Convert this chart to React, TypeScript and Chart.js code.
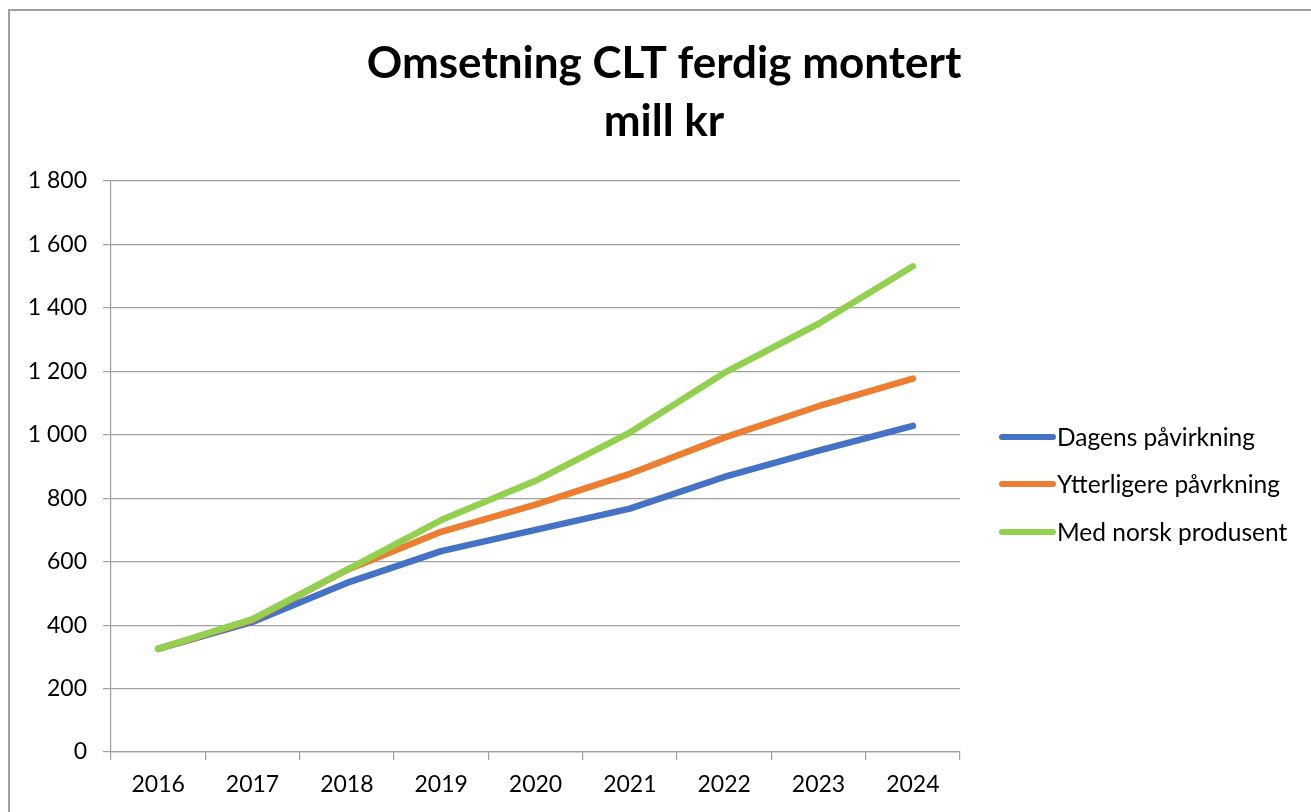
import React, { useEffect, useRef } from 'react';
import { Chart, registerables } from 'chart.js';

Chart.register(...registerables);

const years = ['2016', '2017', '2018', '2019', '2020', '2021', '2022', '2023', '2024'];
const dagens = [325, 410, 533, 633, 700, 767, 867, 950, 1028];
const ytterligere = [325, 416, 574, 694, 780, 877, 991, 1090, 1177];
const medNorsk = [325, 419, 574, 731, 855, 1007, 1195, 1350, 1531];
const seriesNames = ['Dagens påvirkning', 'Ytterligere påvrkning', 'Med norsk produsent'];
const seriesColors = ['#4472C4', '#ED7D31', '#92D050'];
const titleLines = ['Omsetning CLT ferdig montert', 'mill kr'];
const yMin = 0;
const yMax = 1800;
const yStep = 200;

const FONT = 'Lato, "Open Sans", sans-serif';
const GRID = '#a0a0a0';

const formatThousands = (v: number) => {
  const s = String(Math.round(v));
  return s.replace(/\B(?=(\d{3})+(?!\d))/g, ' ');
};

const decorPlugin = {
  id: 'decor',
  beforeDraw(chart: any) {
    const ctx = chart.ctx;
    ctx.save();
    ctx.fillStyle = '#ffffff';
    ctx.fillRect(0, 0, chart.width, chart.height);
    ctx.strokeStyle = '#a0a0a0';
    ctx.lineWidth = 2;
    ctx.strokeRect(9, 10, chart.width + 50, chart.height + 50);
    ctx.restore();
  },
  afterDraw(chart: any) {
    const ctx = chart.ctx;
    ctx.save();
    // title
    ctx.fillStyle = '#000000';
    ctx.textAlign = 'center';
    ctx.textBaseline = 'middle';
    ctx.font = `bold 44px ${FONT}`;
    ctx.fillText(titleLines[0], 664, 64);
    ctx.fillText(titleLines[1], 664, 122);
    // legend
    const ys = [437, 484, 532];
    chart.data.datasets.forEach((ds: any, i: number) => {
      const y = ys[i];
      ctx.strokeStyle = ds.borderColor;
      ctx.lineWidth = 6;
      ctx.lineCap = 'round';
      ctx.beginPath();
      ctx.moveTo(1002, y);
      ctx.lineTo(1053, y);
      ctx.stroke();
      ctx.fillStyle = '#000000';
      ctx.textAlign = 'left';
      ctx.textBaseline = 'middle';
      ctx.font = `24.5px ${FONT}`;
      ctx.fillText(ds.label, 1057, y + 1);
    });
    ctx.restore();
  },
};

export default function App() {
  const ref = useRef<HTMLCanvasElement | null>(null);
  useEffect(() => {
    if (!ref.current) return;
    const series = [dagens, ytterligere, medNorsk];
    const chart = new Chart(ref.current, {
      type: 'line',
      data: {
        labels: years,
        datasets: series.map((d, i) => ({
          label: seriesNames[i],
          data: d,
          borderColor: seriesColors[i],
          backgroundColor: seriesColors[i],
          borderWidth: 6.5,
          borderCapStyle: 'round',
          borderJoinStyle: 'round',
          pointRadius: 0,
          pointHoverRadius: 0,
          tension: 0,
          fill: false,
          order: 3 - i,
        })),
      },
      options: {
        animation: false,
        responsive: false,
        devicePixelRatio: 1,
        layout: { padding: { left: 0, top: 181, right: 351, bottom: 0 } },
        plugins: {
          legend: { display: false },
          title: { display: false },
          tooltip: { enabled: false },
        },
        scales: {
          x: {
            type: 'category',
            offset: true,
            afterFit: (s: any) => { s.height = 60; },
            grid: {
              offset: true,
              drawOnChartArea: false,
              drawTicks: true,
              tickLength: 8,
              color: GRID,
              lineWidth: 1.2,
            },
            border: { display: true, color: GRID, width: 1.2 },
            ticks: {
              color: '#000000',
              font: { family: FONT, size: 23 },
              padding: 11,
              maxRotation: 0,
              autoSkip: false,
            },
          },
          y: {
            min: yMin,
            max: yMax,
            afterFit: (s: any) => { s.width = 111; },
            grid: {
              color: GRID,
              lineWidth: 1.2,
              drawTicks: true,
              tickLength: 8,
            },
            border: { display: true, color: GRID, width: 1.2 },
            ticks: {
              stepSize: yStep,
              color: '#000000',
              font: { family: FONT, size: 23 },
              padding: 16,
              callback: (v: any) => formatThousands(Number(v)),
            },
          },
        },
      },
      plugins: [decorPlugin],
    });
    return () => chart.destroy();
  }, []);
  return (
    <div style={{ position: 'fixed', left: 0, top: 0, width: 1311, height: 812, overflow: 'hidden', background: '#fff' }}>
      <canvas ref={ref} width={1311} height={812} style={{ display: 'block', width: 1311, height: 812 }} />
    </div>
  );
}
